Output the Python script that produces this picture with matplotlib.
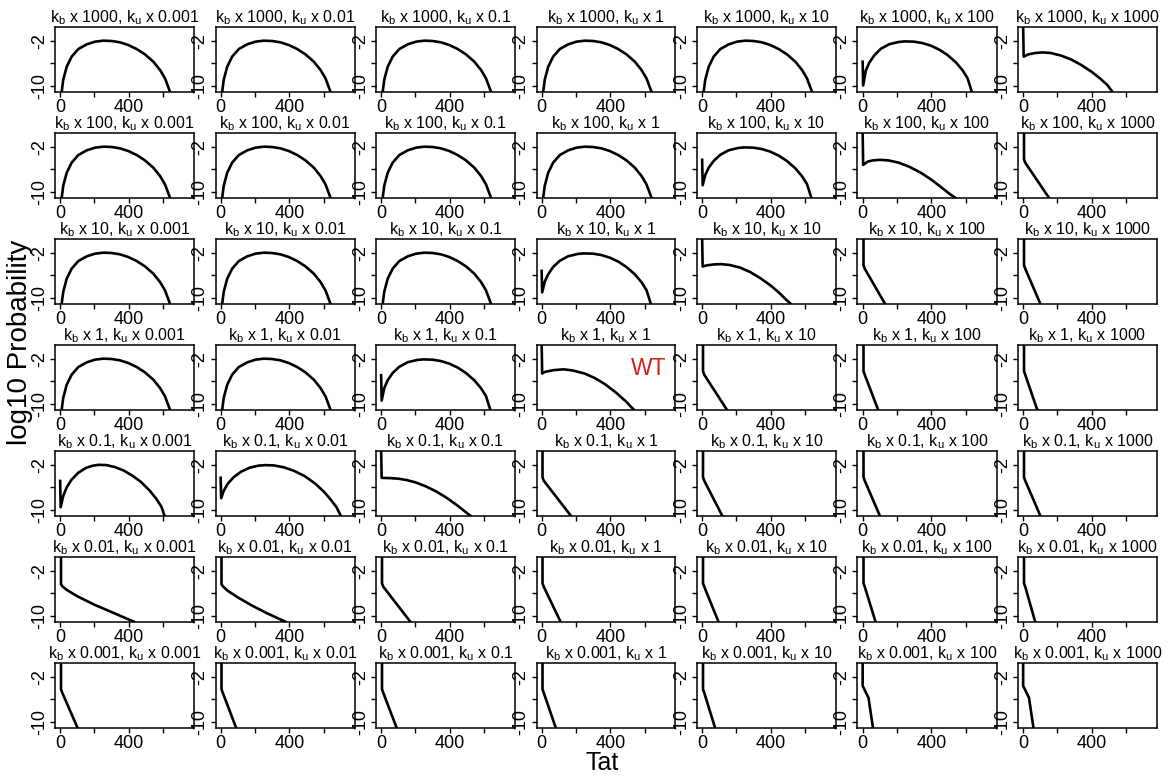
import matplotlib.pyplot as plt

plt.rcParams['font.family'] = ['Liberation Sans', 'DejaVu Sans']
plt.rcParams['mathtext.fontset'] = 'custom'
plt.rcParams['mathtext.rm'] = 'Liberation Sans'
plt.rcParams['mathtext.it'] = 'Liberation Sans'
plt.rcParams['mathtext.default'] = 'regular'
plt.rcParams['axes.unicode_minus'] = False

kb_factors = ['1000', '100', '10', '1', '0.1', '0.01', '0.001']
ku_factors = ['0.001', '0.01', '0.1', '1', '10', '100', '1000']

# each curve: (Tat values, log10 probability values)
arch = ([9, 18, 38, 67, 106, 155, 203, 252, 300, 349, 397, 446, 494, 543, 582, 611, 640],
        [-11.0, -8.9, -6.6, -4.8, -3.45, -2.62, -2.15, -1.97, -2.03, -2.27, -2.74, -3.45, -4.39, -5.69, -7.16, -8.64, -11.0])

spike_kb1000 = ([0, 3, 18, 38, 67, 106, 155, 210, 245, 300, 349, 397, 446, 494, 543, 582, 611, 636],
                [-5.7, -9.9, -7.3, -5.9, -4.6, -3.4, -2.6, -2.2, -2.1, -2.15, -2.4, -2.85, -3.55, -4.5, -5.8, -7.2, -8.6, -11.0])
spike_kb100 = ([0, 3, 18, 38, 67, 106, 155, 210, 245, 300, 349, 397, 446, 494, 543, 582, 611, 636],
               [-4.3, -8.8, -7.0, -5.7, -4.5, -3.4, -2.6, -2.2, -2.1, -2.15, -2.4, -2.85, -3.55, -4.5, -5.8, -7.2, -8.6, -11.0])
spike_kb10 = ([0, 3, 18, 38, 67, 106, 155, 210, 245, 300, 349, 397, 446, 494, 543, 582, 611, 636],
              [-5.2, -9.0, -7.1, -5.8, -4.5, -3.4, -2.6, -2.2, -2.1, -2.15, -2.4, -2.85, -3.55, -4.5, -5.8, -7.2, -8.6, -11.0])
spike_kb1 = ([0, 3, 18, 38, 67, 106, 155, 210, 245, 300, 349, 397, 446, 494, 543, 582, 611, 636],
             [-4.9, -9.4, -7.2, -5.8, -4.5, -3.4, -2.6, -2.2, -2.1, -2.15, -2.4, -2.85, -3.55, -4.5, -5.8, -7.2, -8.6, -11.0])
spike_kb01_a = ([0, 3, 18, 38, 67, 106, 150, 190, 225, 270, 320, 370, 420, 470, 520, 560, 590, 608],
                [-4.85, -9.5, -7.5, -6.0, -4.6, -3.4, -2.55, -2.15, -2.0, -2.05, -2.4, -3.0, -3.9, -5.0, -6.5, -8.0, -9.4, -11.0])
spike_kb01_b = ([0, 3, 18, 40, 75, 120, 170, 220, 260, 310, 370, 430, 490, 550, 600, 640, 675, 700],
                [-4.3, -7.9, -6.6, -5.4, -4.2, -3.2, -2.5, -2.15, -2.05, -2.1, -2.45, -3.1, -4.0, -5.3, -6.7, -8.1, -9.5, -11.0])

hump_kb1000 = ([0, 3, 30, 70, 115, 160, 220, 280, 340, 400, 450, 490, 520],
               [0.5, -4.8, -4.4, -4.15, -4.05, -4.15, -4.6, -5.3, -6.3, -7.5, -8.7, -9.8, -11.0])
hump_kb100 = ([0, 3, 30, 60, 100, 150, 210, 270, 340, 400, 460, 510, 540],
              [0.5, -5.2, -4.6, -4.4, -4.3, -4.4, -4.8, -5.5, -6.6, -7.8, -9.2, -10.4, -11.0])
hump_kb10 = ([0, 3, 30, 70, 110, 160, 220, 280, 340, 400, 450, 490, 515],
             [0.5, -4.4, -4.2, -4.05, -4.0, -4.15, -4.6, -5.4, -6.5, -7.8, -9.1, -10.3, -11.0])
hump_kb1 = ([0, 3, 20, 70, 127, 180, 250, 310, 370, 430, 490, 537],
            [0.5, -4.6, -4.3, -4.0, -3.86, -4.05, -4.6, -5.4, -6.5, -7.9, -9.5, -11.0])
hump_kb01 = ([0, 3, 50, 100, 150, 200, 260, 320, 380, 440, 490, 520],
             [0.5, -4.3, -4.35, -4.45, -4.7, -5.1, -5.8, -6.7, -7.8, -9.1, -10.3, -11.0])

long_kb001_a = ([5, 5, 15, 40, 100, 200, 300, 430],
                [0.5, -4.4, -4.8, -5.4, -6.5, -8.0, -9.3, -11.0])
long_kb001_b = ([5, 5, 15, 40, 100, 180, 270, 377],
                [0.5, -4.4, -4.8, -5.5, -6.7, -8.1, -9.5, -11.0])

# vertical drop then a straight fall; last Tat entry is where the fall reaches the bottom
steep_drop = [0.5, -4.2, -4.8, -11.0]
steep_150 = ([5, 5, 12, 150], steep_drop)
steep_144 = ([5, 5, 12, 144], steep_drop)
steep_130 = ([5, 5, 12, 130], steep_drop)
steep_170 = ([5, 5, 12, 170], steep_drop)
steep_117 = ([5, 5, 12, 117], steep_drop)
steep_110 = ([5, 5, 12, 110], steep_drop)
steep_101 = ([5, 5, 12, 101], steep_drop)
steep_100 = ([5, 5, 12, 100], steep_drop)
steep_95 = ([5, 5, 12, 95], steep_drop)
steep_90 = ([5, 5, 12, 90], steep_drop)
steep_82 = ([5, 5, 12, 82], steep_drop)
steep_75 = ([5, 5, 12, 75], steep_drop)
steep_70 = ([5, 5, 12, 70], steep_drop)
steep_60 = ([0, 0, 34, 60], [0.5, -3.6, -5.7, -11.0])

curves = [
    [arch, arch, arch, arch, arch, spike_kb1000, hump_kb1000],
    [arch, arch, arch, arch, spike_kb100, hump_kb100, steep_150],
    [arch, arch, arch, spike_kb10, hump_kb10, steep_130, steep_100],
    [arch, arch, spike_kb1, hump_kb1, steep_144, steep_90, steep_82],
    [spike_kb01_a, spike_kb01_b, hump_kb01, steep_170, steep_117, steep_100, steep_100],
    [long_kb001_a, long_kb001_b, steep_170, steep_110, steep_95, steep_75, steep_70],
    [steep_101, steep_90, steep_90, steep_82, steep_75, steep_60, steep_60],
]

W, H = 1170, 778
fig = plt.figure(figsize=(W / 100, H / 100), dpi=100)

for r, kb in enumerate(kb_factors):
    for c, ku in enumerate(ku_factors):
        left = 55 + 160.5 * c
        top = 26.7 + 106 * r
        ax = fig.add_axes([left / W, 1 - (top + 65) / H, 139 / W, 65 / H])
        tat, logp = curves[r][c]
        ax.plot(tat, logp, color='black', lw=1.9, solid_joinstyle='round')
        ax.set_xlim(-30, 780)
        ax.set_ylim(-11, 0.5)
        ax.set_xticks([0, 200, 400, 600])
        ax.set_xticklabels(['0', '', '400', ''])
        ax.set_yticks([-10, -6, -2])
        ax.set_yticklabels(['-10', '', '-2'], rotation=90, va='center')
        ax.tick_params(direction='out', length=3.5, width=1, pad=1.5, labelsize=13)
        for sp in ax.spines.values():
            sp.set_linewidth(1.1)
        ax.set_title(f'k$_b$ x {kb}, k$_u$ x {ku}', fontsize=11.5, pad=3)
        if kb == '1' and ku == '1':
            ax.text(623, -3.7, 'WT', ha='center', va='center', color='#d82020', fontsize=16.5)

fig.text(20 / W, 1 - 342 / H, 'log10 Probability', rotation=90, ha='center', va='center', fontsize=20)
fig.text(602 / W, 1 - 763 / H, 'Tat', ha='center', va='center', fontsize=18)

fig.savefig('out.png', dpi=100)
